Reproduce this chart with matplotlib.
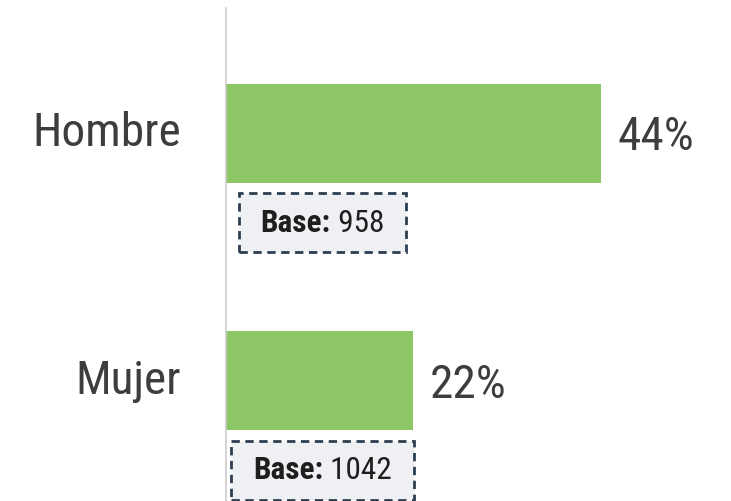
import matplotlib
matplotlib.use("Agg")
import matplotlib.pyplot as plt
from matplotlib import font_manager
from matplotlib.offsetbox import TextArea, HPacker, AnnotationBbox
from matplotlib.patches import Rectangle

categories = ["Hombre", "Mujer"]
values = [44, 22]
bases = [958, 1042]

names = {f.name for f in font_manager.fontManager.ttflist}
family = "Roboto Condensed" if "Roboto Condensed" in names else "Roboto"
plt.rcParams["font.family"] = [family, "DejaVu Sans"]

W, H = 731, 501
fig = plt.figure(figsize=(W / 100, H / 100), dpi=100)
ax = fig.add_axes([226 / W, 0, (W - 226) / W, 493 / H])

bar_color = "#8cc665"
text_color = "#3d3d3d"

ypos = list(range(len(categories)))
ax.barh(ypos, values, height=0.40, color=bar_color)
ax.set_xlim(0, (W - 226) / 8.52)
ax.set_ylim(1.485, -0.507)

for y, v, cat in zip(ypos, values, categories):
    ax.text(v + 1.9, y + 0.015, f"{v}%", va="center", ha="left",
            fontsize=34, color=text_color)
    ax.text(-5.3, y, cat, va="center", ha="right", fontsize=34,
            color=text_color, clip_on=False)

# Base labels: bold "Base:" followed by the count
packs = []
for y, b in zip(ypos, bases):
    bold = TextArea("Base:", textprops=dict(fontsize=22.5, fontweight="bold", color="#1e1e1e"))
    num = TextArea(f" {b}", textprops=dict(fontsize=22.5, color="#1e1e1e"))
    pack = HPacker(children=[bold, num], align="baseline", pad=0, sep=0)
    ab = AnnotationBbox(pack, (11.3, y + 0.36), xycoords="data", frameon=False,
                        pad=0, box_alignment=(0.5, 0.5), annotation_clip=False,
                        zorder=5)
    ax.add_artist(ab)
    packs.append((ab, y))

# Dashed frames sized around each label (display pixels), drawn beneath the text
renderer = fig.canvas.get_renderer()
for ab, y in packs:
    ext = ab.get_window_extent(renderer)
    cx, cy = ax.transData.transform((11.3, y + 0.36))
    w = ext.width + 44
    h = 59
    rect = Rectangle((cx - w / 2, cy - h / 2), w, h, transform=None,
                     facecolor="#eef0f3", edgecolor="#2d3e50",
                     linestyle=(0, (3, 2)), linewidth=2, zorder=3,
                     clip_on=False)
    ax.add_artist(rect)

for s in ["top", "right", "bottom"]:
    ax.spines[s].set_visible(False)
ax.spines["left"].set_color("#cccccc")
ax.spines["left"].set_linewidth(1.2)
ax.set_xticks([])
ax.set_yticks([])

fig.savefig("out.png", dpi=100)
